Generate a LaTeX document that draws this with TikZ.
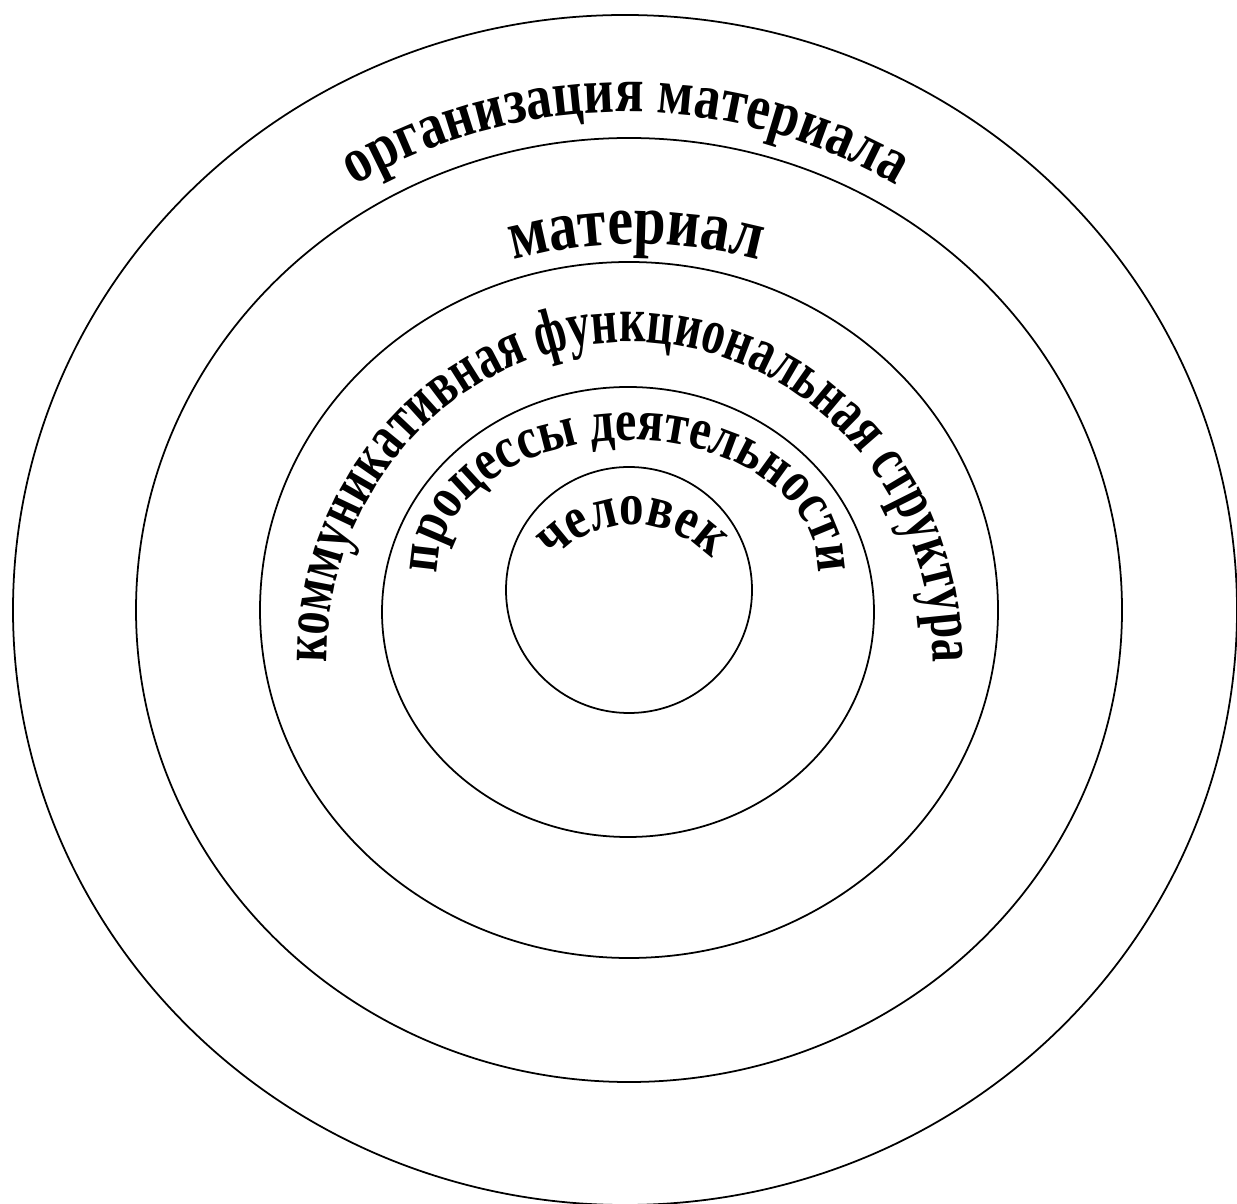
\documentclass[tikz,border=0pt]{standalone}
\usepackage{fontspec}
\setmainfont{Liberation Serif}
\newfontfamily\arcfont[FakeStretch=0.82]{Liberation Serif}
\newfontfamily\arcnarrow[FakeStretch=0.72]{Liberation Serif}
\usetikzlibrary{decorations.text}

\tikzset{
  ring/.style={line width=0.5pt},
  arctext/.style n args={3}{decorate, decoration={text along path, text align=center,
    text={|#1\fontsize{#2}{#2}\selectfont\bfseries|#3}}}
}

\begin{document}
\begin{tikzpicture}[x=0.01cm, y=0.01cm]
  \useasboundingbox (0,0) rectangle (1237,1203);

  % Rings
  \draw[ring] (625,593) ellipse [x radius=612, y radius=595];
  \draw[ring] (629,593) ellipse [x radius=493, y radius=472];
  \draw[ring] (629,593) ellipse [x radius=369, y radius=348];
  \draw[ring] (628,591) ellipse [x radius=246, y radius=225];
  \draw[ring] (629,613) circle [radius=123];

  % Centres of the text arcs
  \coordinate (orgc) at (625,558);
  \coordinate (matc) at (636,487);
  \coordinate (komc) at (630,543);
  \coordinate (proc) at (628,633);
  \coordinate (chelc) at (632,569);

  % Labels
  \path[arctext={\arcfont}{18.2}{организация материала}]
    ([shift={(135:533)}]orgc) arc [start angle=135, end angle=45, radius=533];
  \path[arctext={\arcfont}{20}{материал}]
    ([shift={(120:472)}]matc) arc [start angle=120, end angle=60, radius=472];
  \path[arctext={\arcnarrow}{18.2}{коммуникативная функциональная структура}]
    ([shift={(200:303 and 318)}]komc) arc [start angle=200, end angle=-20, x radius=303, y radius=318];
  \path[arctext={\arcfont}{16.7}{процессы деятельности}]
    ([shift={(200:190 and 130)}]proc) arc [start angle=200, end angle=-20, x radius=190, y radius=130];
  \path[arctext={\arcfont}{17}{человек}]
    ([shift={(160:109)}]chelc) arc [start angle=160, end angle=20, radius=109];

\end{tikzpicture}
\end{document}
